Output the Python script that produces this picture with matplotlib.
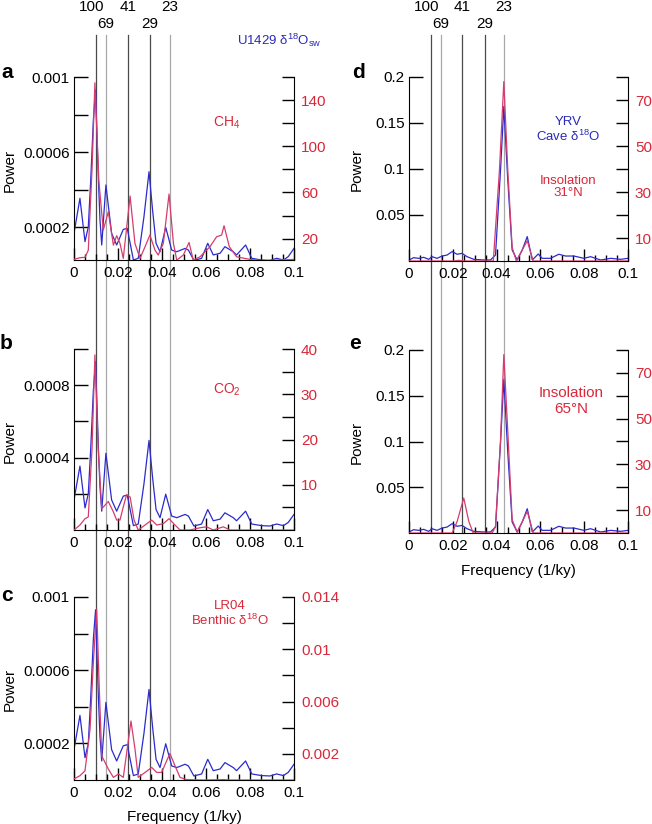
import matplotlib
matplotlib.use('Agg')
import matplotlib.pyplot as plt
from matplotlib.lines import Line2D
from matplotlib.transforms import blended_transform_factory
import numpy as np

plt.rcParams['font.family'] = ['Liberation Sans', 'DejaVu Sans']
plt.rcParams['mathtext.fontset'] = 'custom'
plt.rcParams['mathtext.rm'] = 'Liberation Sans'
plt.rcParams['mathtext.it'] = 'Liberation Sans:italic'
plt.rcParams['mathtext.bf'] = 'Liberation Sans:bold'

# ---- spectra (frequency in 1/ky) ----
# U1429 d18O_sw (blue, panels a-c, left axis)
f_u1429 = [0, 0.0027, 0.005, 0.0065, 0.0076, 0.0088, 0.0098, 0.0111, 0.0118, 0.0126, 0.0145, 0.0171,
           0.0194, 0.0224, 0.0242, 0.027, 0.0292, 0.0318, 0.0341, 0.0358, 0.0373, 0.0391,
           0.0417, 0.0444, 0.0467, 0.0505, 0.052, 0.0545, 0.058, 0.0608, 0.0633, 0.0664,
           0.0686, 0.0724, 0.0739, 0.078, 0.0808, 0.0853, 0.0891, 0.0921, 0.0952, 0.0974, 0.1]
p_u1429 = [0.000166, 0.000353, 0.000122, 0.0002, 0.00045, 0.00077, 0.00093, 0.00045, 0.00024, 0.000104,
           0.000424, 0.000166,
           0.000104, 0.000187, 0.000193, 0.000024, 0.000033, 0.000255, 0.000495, 0.00028, 0.000113, 0.000068,
           0.000198, 0.000077, 0.000068, 0.000086, 0.000077, 0.000022, 0.000033, 0.000113, 0.000051, 0.00006,
           0.000095, 0.000068, 0.000051, 0.000104, 0.000033, 0.000024, 0.000022, 0.000033, 0.000024, 0.000042, 0.000086]

# CH4 (red, panel a, right axis)
f_ch4 = [0, 0.0027, 0.005, 0.0065, 0.0082, 0.0095, 0.0113, 0.0133, 0.0156, 0.0179,
         0.0194, 0.0209, 0.0224, 0.0255, 0.0277, 0.03, 0.0323, 0.0345, 0.0368, 0.0383,
         0.0406, 0.0432, 0.0452, 0.0467, 0.0497, 0.0523, 0.0542, 0.0573, 0.0618, 0.0648,
         0.0671, 0.0682, 0.0706, 0.0739, 0.08, 0.0861, 0.0921, 0.1]
p_ch4 = [2.0, 3.5, 3.8, 10, 80, 155, 70, 27.4, 43.3, 14.4,
         22.5, 15.9, 2.9, 56.9, 15.9, 2.9, 13, 23.1, 10.1, 5.8,
         15.9, 58.6, 15.9, 1.4, 5.8, 16.7, 1.4, 4.3, 13, 21.6,
         23.1, 31.2, 13, 4.3, 2.0, 0.9, 1.4, 2.0]

# CO2 (red, panel b, right axis)
f_co2 = [0, 0.0027, 0.005, 0.0065, 0.0082, 0.0095, 0.011, 0.0126, 0.0156, 0.0179,
         0.0194, 0.0209, 0.0224, 0.0239, 0.0255, 0.0273, 0.0292, 0.0323, 0.0353, 0.0376,
         0.0406, 0.0432, 0.0459, 0.0482, 0.0527, 0.0573, 0.0603, 0.0633, 0.0679, 0.0709, 0.1]
p_co2 = [0, 1.1, 2.5, 2.9, 18, 38.7, 18, 4.7, 6.3, 4.0,
         2.2, 2.2, 5.1, 7.8, 7.3, 2.2, 0, 1.1, 2.2, 1.1,
         1.4, 2.5, 1.1, 0, 0, 0.5, 0.7, 0, 0.7, 0, 0]

# LR04 benthic d18O (red, panel c, right axis)
f_lr04 = [0, 0.0027, 0.005, 0.0073, 0.0088, 0.0103, 0.0115, 0.0126, 0.0156, 0.0179,
          0.0202, 0.0224, 0.0242, 0.0259, 0.0277, 0.0292, 0.0323, 0.0353, 0.0376, 0.0398,
          0.0436, 0.0459, 0.0482, 0.0512, 0.0588, 0.0679, 0.0709, 0.1]
p_lr04 = [0.00008, 0.00033, 0.0007, 0.0039, 0.009, 0.01306, 0.007, 0.00185, 0.00084, 0.0002,
          0.00046, 0.0002, 0.0024, 0.00451, 0.0024, 0.0002, 0.00058, 0.00096, 0.00058, 0.00058,
          0.00203, 0.00109, 0.0002, 0.00003, 0, 0.00003, 0, 0]

# YRV cave d18O (blue, panels d-e, left axis)
f_yrv = [0, 0.0021, 0.0044, 0.0067, 0.009, 0.0105, 0.0128, 0.0151, 0.0174, 0.0197,
         0.022, 0.0242, 0.0265, 0.0296, 0.0341, 0.0372, 0.0395, 0.0418, 0.0433, 0.0451,
         0.0471, 0.0494, 0.0517, 0.054, 0.0563, 0.059, 0.0608, 0.0646, 0.0684, 0.0715,
         0.0753, 0.0799, 0.0829, 0.0875, 0.0921, 0.0966, 0.1]
p_yrv = [0.0011, 0.0036, 0.0029, 0.004, 0.0018, 0.0047, 0.0029, 0.0054, 0.0065, 0.0102,
         0.0073, 0.0083, 0.0047, 0.0018, 0.0011, 0.0011, 0.0065, 0.0991, 0.168, 0.0882,
         0.012, 0.0011, 0.012, 0.0265, 0.0011, 0.0076, 0.0029, 0.0029, 0.0073, 0.0054,
         0.0054, 0.0029, 0.0047, 0.0011, 0.0029, 0.0018, 0.0029]

# insolation 31N (red, panel d) and 65N (red, panel e)
f_ins31 = [0, 0.0204, 0.0227, 0.025, 0.0385, 0.0413, 0.0433, 0.0451, 0.0471, 0.049, 0.054, 0.0567, 0.1]
p_ins31 = [0, 0, 0.3, 0, 0, 39.5, 78, 39.5, 5.9, 0, 8.8, 0, 0]
f_ins65 = [0, 0.0197, 0.022, 0.025, 0.0273, 0.0293, 0.038, 0.0395, 0.0418, 0.0433, 0.0453,
           0.0471, 0.0494, 0.054, 0.0567, 0.1]
p_ins65 = [0, 0, 5.1, 15.3, 5.1, 0, 0, 2.9, 40.7, 78, 40.7, 5.8, 0.3, 9.5, 0, 0]

# orbital periods (ky) marked by vertical lines
periods = [100, 69, 41, 29, 23]
period_row = [0, 1, 0, 1, 0]          # 0 = upper label row, 1 = lower
period_shade = ['#4a4a4a', '#a8a8a8', '#4a4a4a', '#4a4a4a', '#a8a8a8']

BLUE = '#2b2bcf'
RED = '#d63d6c'
RED_TXT = '#d8283a'
BLUE_TXT = '#2a2ab8'
FS = 11

W, H = 652, 824
fig = plt.figure(figsize=(W / 100, H / 100), dpi=100)


def px(x, y):
    return x / W, 1 - y / H


def add_panel(x0, y0, x1, y1, fb, pb, fr, pr, ylim_l, lmaj, lmin, llab,
              ylim_r, rmaj, rmin, rlab):
    ax = fig.add_axes([x0 / W, 1 - y1 / H, (x1 - x0) / W, (y1 - y0) / H])
    ax.patch.set_visible(False)
    ax.plot(fb, pb, color=BLUE, lw=0.9)
    ax.set_xlim(0, 0.1)
    ax.set_ylim(*ylim_l)
    ax.set_xticks(np.arange(0, 0.1001, 0.02))
    ax.set_xticklabels(['0', '0.02', '0.04', '0.06', '0.08', '0.1'])
    ax.set_xticks(np.arange(0, 0.1001, 0.005), minor=True)
    ax.set_yticks(lmaj)
    ax.set_yticklabels(llab)
    ax.set_yticks(lmin, minor=True)
    ax.tick_params(axis='x', which='major', direction='in', length=9, width=1, pad=4, labelsize=FS)
    ax.tick_params(axis='x', which='minor', direction='in', length=4.5, width=1)
    ax.tick_params(axis='y', which='both', direction='in', length=10, width=1, pad=3, labelsize=FS)
    for s in ['top', 'right']:
        ax.spines[s].set_visible(False)

    ax2 = ax.twinx()
    ax2.plot(fr, pr, color=RED, lw=0.9)
    ax2.set_ylim(*ylim_r)
    ax2.set_yticks(rmaj)
    ax2.set_yticklabels(rlab)
    ax2.set_yticks(rmin, minor=True)
    ax2.tick_params(axis='y', which='both', direction='in', length=9, width=1, pad=5,
                    labelsize=FS, labelcolor=RED_TXT)
    for s in ['top', 'left', 'bottom']:
        ax2.spines[s].set_visible(False)
    return ax, ax2


# left column
ax_a, _ = add_panel(74, 77, 294, 260, f_u1429, p_u1429, f_ch4, p_ch4,
                    (0.000024, 0.001), [0.0002, 0.0006, 0.001], [0.0004, 0.0008],
                    ['0.0002', '0.0006', '0.001'],
                    (1.5, 160), [20, 60, 100, 140], [40, 80, 120, 160], ['20', '60', '100', '140'])
ax_b, _ = add_panel(74, 349, 294, 530, f_u1429, p_u1429, f_co2, p_co2,
                    (0, 0.001), [0.0004, 0.0008], [0.0002, 0.0006, 0.001], ['0.0004', '0.0008'],
                    (0, 40), [10, 20, 30, 40], [5, 15, 25, 35], ['10', '20', '30', '40'])
ax_c, _ = add_panel(74, 597, 294, 780, f_u1429, p_u1429, f_lr04, p_lr04,
                    (0, 0.001), [0.0002, 0.0006, 0.001], [0.0004, 0.0008],
                    ['0.0002', '0.0006', '0.001'],
                    (0, 0.014), [0.002, 0.006, 0.01, 0.014], [0.004, 0.008, 0.012],
                    ['0.002', '0.006', '0.01', '0.014'])
# right column
ax_d, _ = add_panel(409, 77, 628, 261, f_yrv, p_yrv, f_ins31, p_ins31,
                    (0, 0.2), [0.05, 0.1, 0.15, 0.2], [], ['0.05', '0.1', '0.15', '0.2'],
                    (0, 80), [10, 30, 50, 70], [20, 40, 60, 80], ['10', '30', '50', '70'])
ax_e, _ = add_panel(409, 350, 628, 533, f_yrv, p_yrv, f_ins65, p_ins65,
                    (0, 0.2), [0.05, 0.1, 0.15, 0.2], [], ['0.05', '0.1', '0.15', '0.2'],
                    (0, 80), [10, 30, 50, 70], [20, 40, 60, 80], ['10', '30', '50', '70'])

# vertical period lines spanning each column, with labels on top
for ax_top, y_bot in [(ax_a, 780), (ax_d, 533)]:
    tr = blended_transform_factory(ax_top.transData, fig.transFigure)
    for per, row, shade in zip(periods, period_row, period_shade):
        f = 1.0 / per
        fig.add_artist(Line2D([f, f], [1 - 35 / H, 1 - y_bot / H], transform=tr,
                              color=shade, lw=0.9, zorder=-1))
        ypos = 7 if row == 0 else 24
        shift = -0.002 if per == 100 else 0
        fig.text(f + shift, 1 - ypos / H, str(per), transform=tr, ha='center', va='center', fontsize=FS)

# y labels and x labels
for xp, yp in [(10, 170), (10, 441), (10, 689), (357, 169), (357, 442)]:
    fig.text(*px(xp, yp), 'Power', rotation=90, ha='center', va='center', fontsize=FS)
fig.text(*px(184, 817), 'Frequency (1/ky)', ha='center', va='center', fontsize=FS)
fig.text(*px(518, 571), 'Frequency (1/ky)', ha='center', va='center', fontsize=FS)

# panel letters
for lab, xp, yp in [('a', 1, 78), ('b', 0, 349), ('c', 1, 601), ('d', 352, 78), ('e', 349, 349)]:
    fig.text(*px(xp, yp), lab, ha='left', va='baseline', fontsize=15, fontweight='bold')

# series annotations
fig.text(*px(279, 40), r'U1429 δ$^{18}$O$_{\rm sw}$', color=BLUE_TXT, ha='center', va='center', fontsize=9.5)
fig.text(*px(227, 123), r'CH$_4$', color=RED_TXT, ha='center', va='center', fontsize=10)
fig.text(*px(227, 390), r'CO$_2$', color=RED_TXT, ha='center', va='center', fontsize=10)
fig.text(*px(230, 614), 'LR04\nBenthic δ$^{18}$O', color=RED_TXT, ha='center', va='center',
         fontsize=9.5, multialignment='center', linespacing=1.1)
fig.text(*px(568, 130), 'YRV\nCave δ$^{18}$O', color=BLUE_TXT, ha='center', va='center',
         fontsize=9.5, multialignment='center', linespacing=1.1)
fig.text(*px(568, 187), 'Insolation\n31°N', color=RED_TXT, ha='center', va='center',
         fontsize=9.5, multialignment='center', linespacing=1.1)
fig.text(*px(571, 401), 'Insolation\n65°N', color=RED_TXT, ha='center', va='center',
         fontsize=11, multialignment='center', linespacing=1.1)

fig.savefig('out.png', dpi=100)
